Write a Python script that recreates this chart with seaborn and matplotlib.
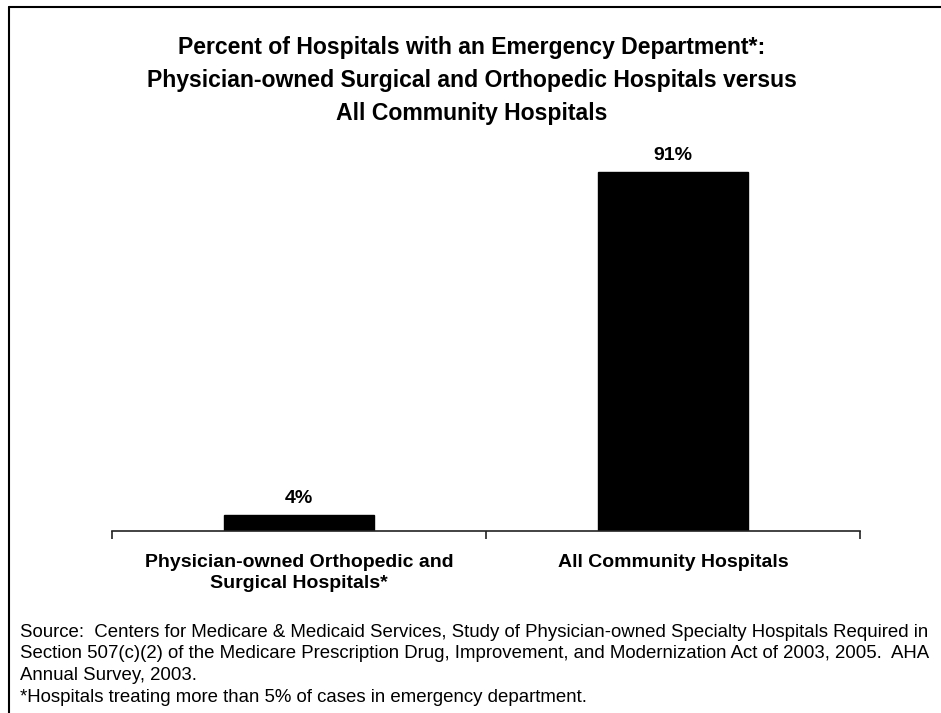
import matplotlib
matplotlib.use("Agg")
import matplotlib.pyplot as plt
import seaborn as sns
import pandas as pd
from matplotlib.lines import Line2D

categories = ["Physician-owned Orthopedic and\nSurgical Hospitals*", "All Community Hospitals"]
values = [4, 91]
value_labels = ["4%", "91%"]
title_lines = ["Percent of Hospitals with an Emergency Department*:",
               "Physician-owned Surgical and Orthopedic Hospitals versus",
               "All Community Hospitals"]
source_lines = [
    "Source:  Centers for Medicare & Medicaid Services, Study of Physician-owned Specialty Hospitals Required in",
    "Section 507(c)(2) of the Medicare Prescription Drug, Improvement, and Modernization Act of 2003, 2005.  AHA",
    "Annual Survey, 2003.",
    "*Hospitals treating more than 5% of cases in emergency department.",
]

sns.set_theme(style="white")
plt.rcParams['font.family'] = ['Liberation Sans', 'DejaVu Sans']
plt.rcParams['text.color'] = 'black'
plt.rcParams['xtick.color'] = 'black'
plt.rcParams['axes.labelcolor'] = 'black'

W, H = 941, 713
fig = plt.figure(figsize=(W / 100, H / 100), dpi=100)
ax = fig.add_axes([112 / W, 1 - 531 / H, (860 - 112) / W, (531 - 137) / H])

df = pd.DataFrame({"cat": categories, "val": values})
sns.barplot(data=df, x="cat", y="val", color="black", width=0.4, ax=ax,
            saturation=1, edgecolor="black")

ax.set_ylim(0, 100)
ax.set_xlim(-0.5, 1.5)
for i, (v, lab) in enumerate(zip(values, value_labels)):
    ax.annotate(lab, (i, v), xytext=(0, 6), textcoords="offset points",
                ha="center", va="bottom", fontsize=14, fontweight="bold",
                color="black")

for s in ["left", "right", "top"]:
    ax.spines[s].set_visible(False)
ax.spines["bottom"].set_color("#222222")
ax.spines["bottom"].set_linewidth(1.2)
ax.set_yticks([])
ax.set_xlabel("")
ax.set_ylabel("")
ax.set_xticks([0, 1])
ax.set_xticklabels(categories, fontsize=14, fontweight="bold", linespacing=1.3,
                   color="black")
ax.tick_params(axis="x", which="major", length=0, pad=16.5)
ax.set_xticks([-0.5, 0.5, 1.5], minor=True)
ax.tick_params(axis="x", which="minor", length=6, width=1.2, color="#222222",
               direction="out", bottom=True)

ys = [47.5, 80.5, 113.5]
for t, y in zip(title_lines, ys):
    fig.text(472 / W, 1 - y / H, t, ha="center", va="center",
             fontsize=16.6, fontweight="bold", color="black")

sy = [632.5, 654, 675.5, 697]
for t, y in zip(source_lines, sy):
    fig.text(20 / W, 1 - y / H, t, ha="left", va="center", fontsize=13.45,
             color="black")

fig.add_artist(Line2D([9 / W, 9 / W], [-0.1, 1 - 7 / H], transform=fig.transFigure,
                      color="black", lw=1.5))
fig.add_artist(Line2D([9 / W, 1.1], [1 - 7 / H, 1 - 7 / H], transform=fig.transFigure,
                      color="black", lw=1.5))

fig.savefig("out.png", dpi=100)
